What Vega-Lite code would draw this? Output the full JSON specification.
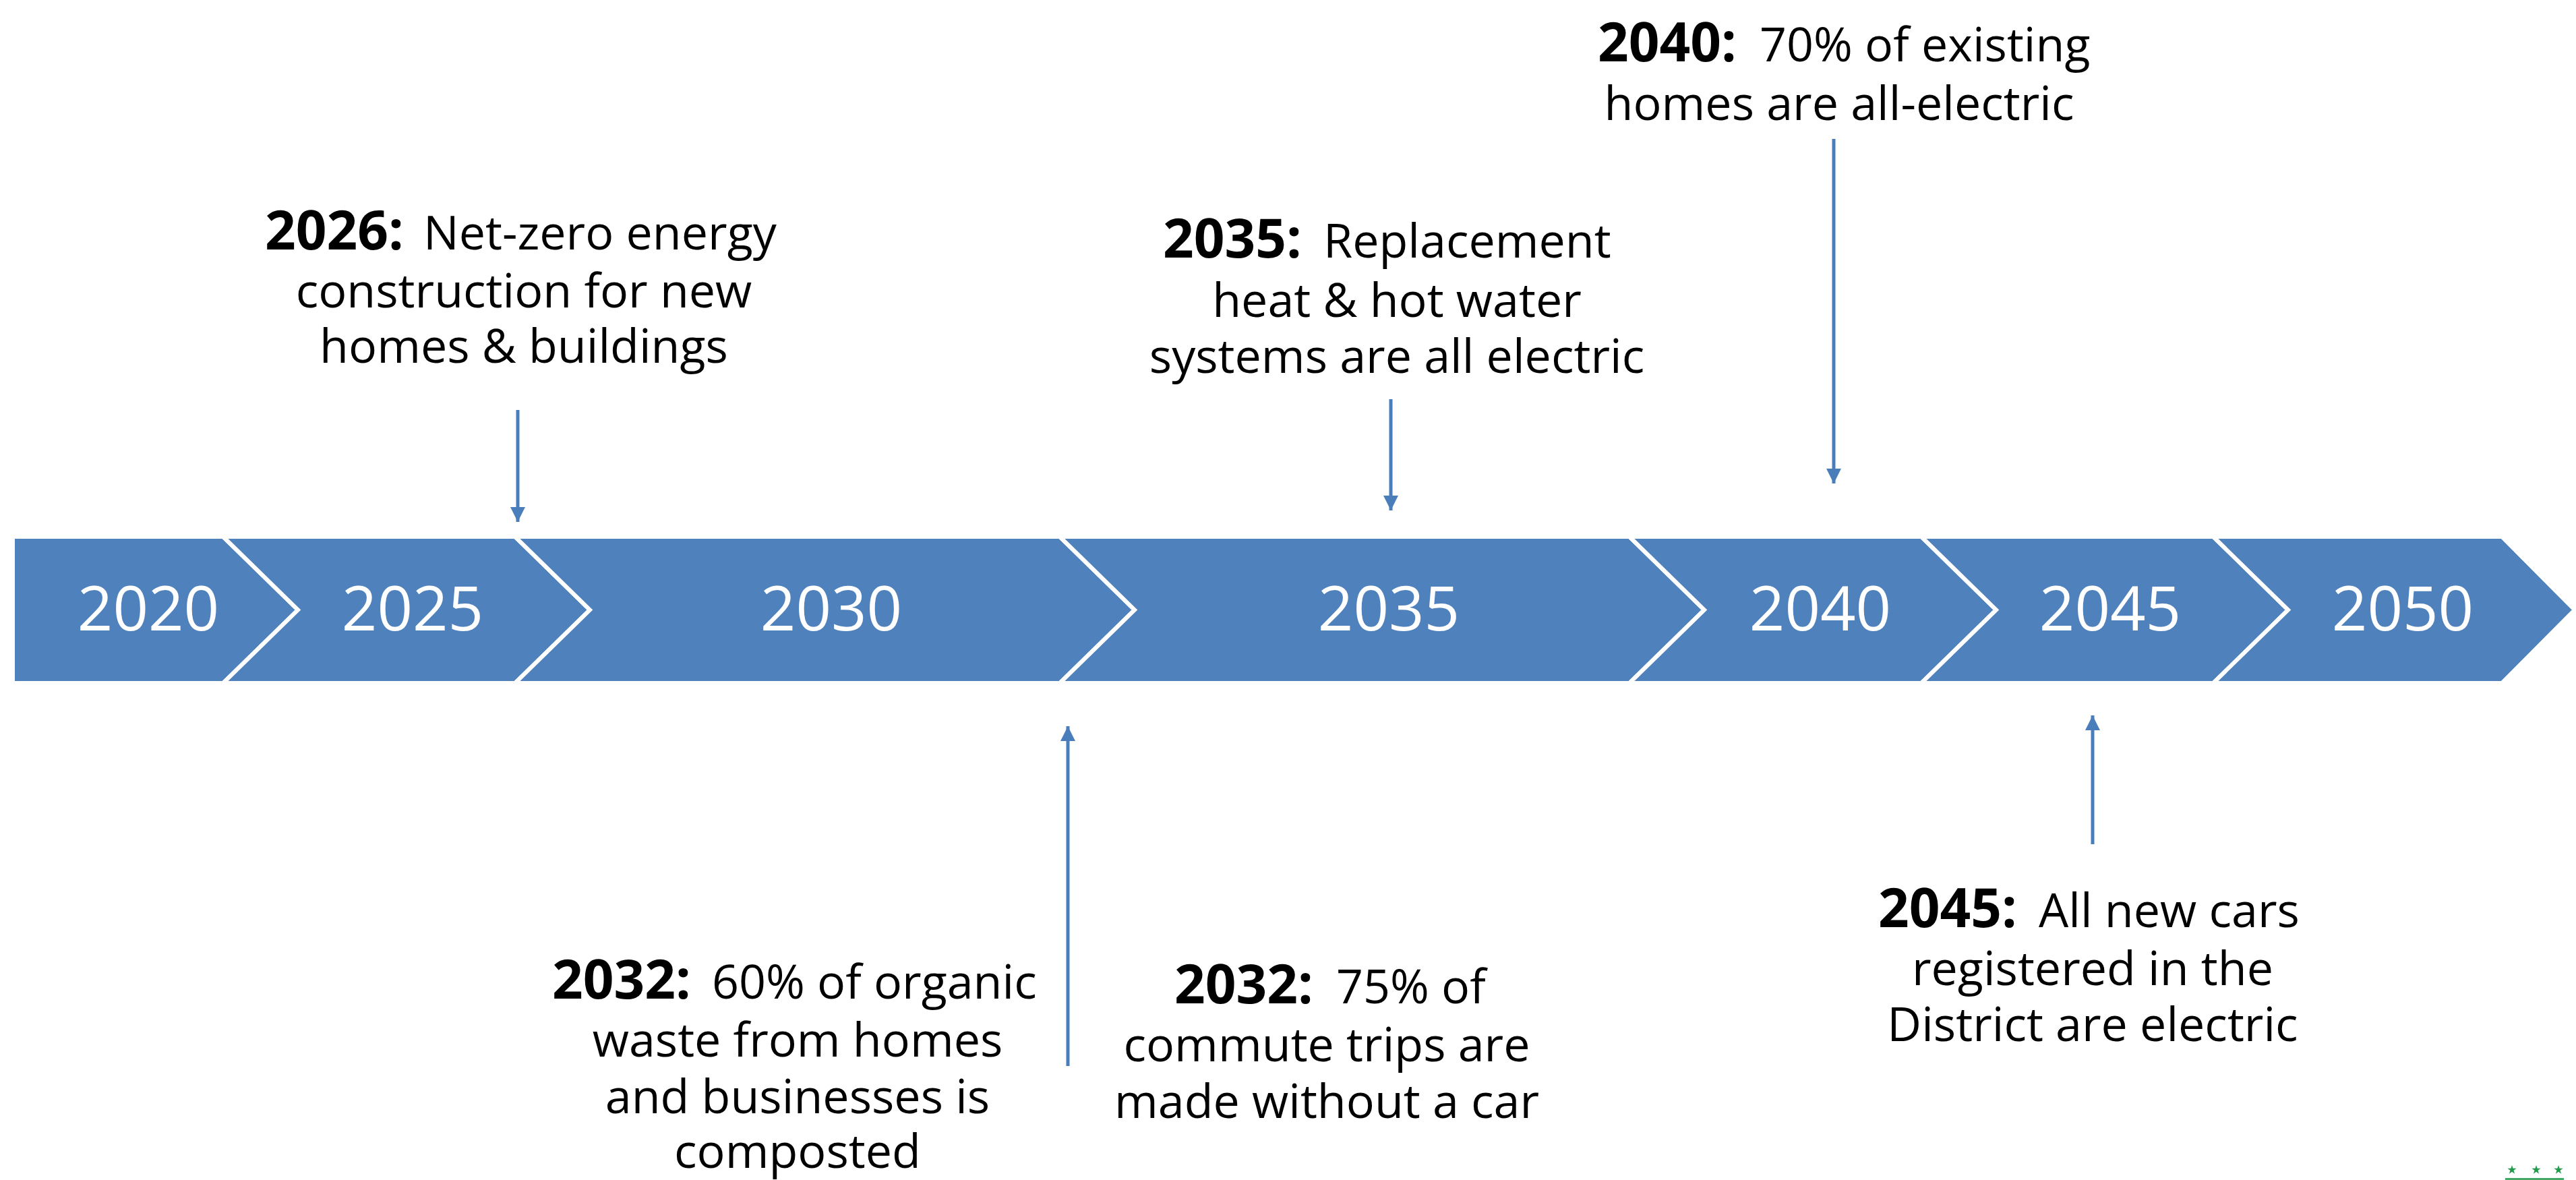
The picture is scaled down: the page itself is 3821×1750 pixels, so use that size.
{
  "$schema": "https://vega.github.io/schema/vega-lite/v6.json",
  "width": 3821,
  "height": 1750,
  "autosize": {"type": "none"},
  "padding": 0,
  "background": "white",
  "config": {"view": {"stroke": null}, "font": "Open Sans"},
  "datasets": {
    "segments": [
      {"seg": "2020", "y": 796, "xa": 19, "xb": 331},
      {"seg": "2020", "y": 904.5, "xa": 19, "xb": 442},
      {"seg": "2020", "y": 1013, "xa": 19, "xb": 331},
      {"seg": "2025", "y": 796, "xa": 331, "xb": 764},
      {"seg": "2025", "y": 904.5, "xa": 442, "xb": 875},
      {"seg": "2025", "y": 1013, "xa": 331, "xb": 764},
      {"seg": "2030", "y": 796, "xa": 764, "xb": 1572},
      {"seg": "2030", "y": 904.5, "xa": 875, "xb": 1683},
      {"seg": "2030", "y": 1013, "xa": 764, "xb": 1572},
      {"seg": "2035", "y": 796, "xa": 1572, "xb": 2417},
      {"seg": "2035", "y": 904.5, "xa": 1683, "xb": 2528},
      {"seg": "2035", "y": 1013, "xa": 1572, "xb": 2417},
      {"seg": "2040", "y": 796, "xa": 2417, "xb": 2850},
      {"seg": "2040", "y": 904.5, "xa": 2528, "xb": 2961},
      {"seg": "2040", "y": 1013, "xa": 2417, "xb": 2850},
      {"seg": "2045", "y": 796, "xa": 2850, "xb": 3283},
      {"seg": "2045", "y": 904.5, "xa": 2961, "xb": 3394},
      {"seg": "2045", "y": 1013, "xa": 2850, "xb": 3283},
      {"seg": "2050", "y": 796, "xa": 3283, "xb": 3711},
      {"seg": "2050", "y": 904.5, "xa": 3394, "xb": 3819},
      {"seg": "2050", "y": 1013, "xa": 3283, "xb": 3711}
    ],
    "years": [
      {"label": "2020", "x": 220, "y": 935},
      {"label": "2025", "x": 612, "y": 935},
      {"label": "2030", "x": 1233, "y": 935},
      {"label": "2035", "x": 2060, "y": 935},
      {"label": "2040", "x": 2700, "y": 935},
      {"label": "2045", "x": 3130, "y": 935},
      {"label": "2050", "x": 3564, "y": 935}
    ],
    "arrows": [
      {"milestone": "2026", "x": 768, "y": 608, "tip": 774, "dir": "down"},
      {"milestone": "2035", "x": 2063, "y": 592, "tip": 757, "dir": "down"},
      {"milestone": "2040", "x": 2720, "y": 206, "tip": 717, "dir": "down"},
      {"milestone": "2032", "x": 1584, "y": 1581, "tip": 1077, "dir": "up"},
      {"milestone": "2045", "x": 3104, "y": 1252, "tip": 1061, "dir": "up"}
    ],
    "texts": [
      {"t": "2026:", "x": 393, "y": 370, "kind": "bold"},
      {"t": "Net-zero energy", "x": 628, "y": 370, "kind": "lead"},
      {"t": "construction for new", "x": 777, "y": 456, "kind": "line"},
      {"t": "homes & buildings", "x": 777, "y": 538, "kind": "line"},
      {"t": "2035:", "x": 1725, "y": 382, "kind": "bold"},
      {"t": "Replacement", "x": 1963, "y": 382, "kind": "lead"},
      {"t": "heat & hot water", "x": 2072, "y": 470, "kind": "line"},
      {"t": "systems are all electric", "x": 2072, "y": 553, "kind": "line"},
      {"t": "2040:", "x": 2370, "y": 91, "kind": "bold"},
      {"t": "70% of existing", "x": 2610, "y": 91, "kind": "lead"},
      {"t": "homes are all-electric", "x": 2728, "y": 178, "kind": "line"},
      {"t": "2032:", "x": 819, "y": 1481, "kind": "bold"},
      {"t": "60% of organic", "x": 1056, "y": 1481, "kind": "lead"},
      {"t": "waste from homes", "x": 1183, "y": 1567, "kind": "line"},
      {"t": "and businesses is", "x": 1183, "y": 1651, "kind": "line"},
      {"t": "composted", "x": 1183, "y": 1732, "kind": "line"},
      {"t": "2032:", "x": 1742, "y": 1488, "kind": "bold"},
      {"t": "75% of", "x": 1982, "y": 1488, "kind": "lead"},
      {"t": "commute trips are", "x": 1968, "y": 1574, "kind": "line"},
      {"t": "made without a car", "x": 1968, "y": 1658, "kind": "line"},
      {"t": "2045:", "x": 2786, "y": 1375, "kind": "bold"},
      {"t": "All new cars", "x": 3024, "y": 1375, "kind": "lead"},
      {"t": "registered in the", "x": 3104, "y": 1461, "kind": "line"},
      {"t": "District are electric", "x": 3104, "y": 1544, "kind": "line"}
    ],
    "stars": [
      {"x": 3726, "y": 1735},
      {"x": 3762, "y": 1735},
      {"x": 3795, "y": 1735}
    ],
    "underline": [
      {"x": 3716, "x2": 3803, "y": 1748.5}
    ]
  },
  "layer": [
    {
      "data": {"name": "segments"},
      "mark": {"type": "area", "orient": "horizontal", "fill": "#4F81BD", "stroke": "white", "strokeWidth": 6, "strokeJoin": "miter", "interpolate": "linear"},
      "encoding": {
        "y": {"field": "y", "type": "quantitative", "scale": {"domain": [0, 1750], "nice": false, "zero": false, "reverse": true}, "axis": null},
        "x": {"field": "xa", "type": "quantitative", "stack": null, "scale": {"domain": [0, 3821], "nice": false, "zero": false}, "axis": null},
        "x2": {"field": "xb"},
        "detail": {"field": "seg", "type": "nominal"}
      }
    },
    {
      "data": {"name": "years"},
      "mark": {"type": "text", "color": "white", "fontSize": 92, "align": "center", "baseline": "alphabetic", "font": "Open Sans"},
      "encoding": {
        "x": {"field": "x", "type": "quantitative", "scale": {"domain": [0, 3821], "nice": false, "zero": false}, "axis": null},
        "y": {"field": "y", "type": "quantitative", "scale": {"domain": [0, 1750], "nice": false, "zero": false, "reverse": true}, "axis": null},
        "text": {"field": "label"}
      }
    },
    {
      "data": {"name": "arrows"},
      "mark": {"type": "rule", "color": "#4A7EBB", "strokeWidth": 5, "strokeCap": "butt"},
      "encoding": {
        "x": {"field": "x", "type": "quantitative", "scale": {"domain": [0, 3821], "nice": false, "zero": false}, "axis": null},
        "y": {"field": "y", "type": "quantitative", "scale": {"domain": [0, 1750], "nice": false, "zero": false, "reverse": true}, "axis": null},
        "y2": {"field": "tip"}
      }
    },
    {
      "data": {"name": "arrows"},
      "mark": {"type": "point", "filled": true, "color": "#4A7EBB", "opacity": 1, "size": 484, "strokeWidth": 0},
      "encoding": {
        "x": {"field": "x", "type": "quantitative", "scale": {"domain": [0, 3821], "nice": false, "zero": false}, "axis": null},
        "y": {"field": "tip", "type": "quantitative", "scale": {"domain": [0, 1750], "nice": false, "zero": false, "reverse": true}, "axis": null},
        "shape": {"field": "dir", "type": "nominal", "scale": {"domain": ["down", "up"], "range": ["M-1,-2L1,-2L0,0Z", "M-1,2L1,2L0,0Z"]}, "legend": null}
      }
    },
    {
      "data": {"name": "texts"},
      "transform": [{"filter": "datum.kind === 'bold'"}],
      "mark": {"type": "text", "color": "black", "fontSize": 80, "fontWeight": "bold", "align": "left", "baseline": "alphabetic", "font": "Open Sans"},
      "encoding": {
        "x": {"field": "x", "type": "quantitative", "scale": {"domain": [0, 3821], "nice": false, "zero": false}, "axis": null},
        "y": {"field": "y", "type": "quantitative", "scale": {"domain": [0, 1750], "nice": false, "zero": false, "reverse": true}, "axis": null},
        "text": {"field": "t"}
      }
    },
    {
      "data": {"name": "texts"},
      "transform": [{"filter": "datum.kind === 'lead'"}],
      "mark": {"type": "text", "color": "black", "fontSize": 70, "align": "left", "baseline": "alphabetic", "font": "Open Sans"},
      "encoding": {
        "x": {"field": "x", "type": "quantitative", "scale": {"domain": [0, 3821], "nice": false, "zero": false}, "axis": null},
        "y": {"field": "y", "type": "quantitative", "scale": {"domain": [0, 1750], "nice": false, "zero": false, "reverse": true}, "axis": null},
        "text": {"field": "t"}
      }
    },
    {
      "data": {"name": "texts"},
      "transform": [{"filter": "datum.kind === 'line'"}],
      "mark": {"type": "text", "color": "black", "fontSize": 70, "align": "center", "baseline": "alphabetic", "font": "Open Sans"},
      "encoding": {
        "x": {"field": "x", "type": "quantitative", "scale": {"domain": [0, 3821], "nice": false, "zero": false}, "axis": null},
        "y": {"field": "y", "type": "quantitative", "scale": {"domain": [0, 1750], "nice": false, "zero": false, "reverse": true}, "axis": null},
        "text": {"field": "t"}
      }
    },
    {
      "data": {"name": "stars"},
      "mark": {"type": "point", "filled": true, "color": "#229A4B", "opacity": 1, "size": 196, "strokeWidth": 0, "shape": "M0,-1L0.2245,-0.309L0.951,-0.309L0.363,0.118L0.588,0.809L0,0.382L-0.588,0.809L-0.363,0.118L-0.951,-0.309L-0.2245,-0.309Z"},
      "encoding": {
        "x": {"field": "x", "type": "quantitative", "scale": {"domain": [0, 3821], "nice": false, "zero": false}, "axis": null},
        "y": {"field": "y", "type": "quantitative", "scale": {"domain": [0, 1750], "nice": false, "zero": false, "reverse": true}, "axis": null}
      }
    },
    {
      "data": {"name": "underline"},
      "mark": {"type": "rule", "color": "#229A4B", "strokeWidth": 2.5},
      "encoding": {
        "x": {"field": "x", "type": "quantitative", "scale": {"domain": [0, 3821], "nice": false, "zero": false}, "axis": null},
        "x2": {"field": "x2"},
        "y": {"field": "y", "type": "quantitative", "scale": {"domain": [0, 1750], "nice": false, "zero": false, "reverse": true}, "axis": null}
      }
    }
  ]
}
